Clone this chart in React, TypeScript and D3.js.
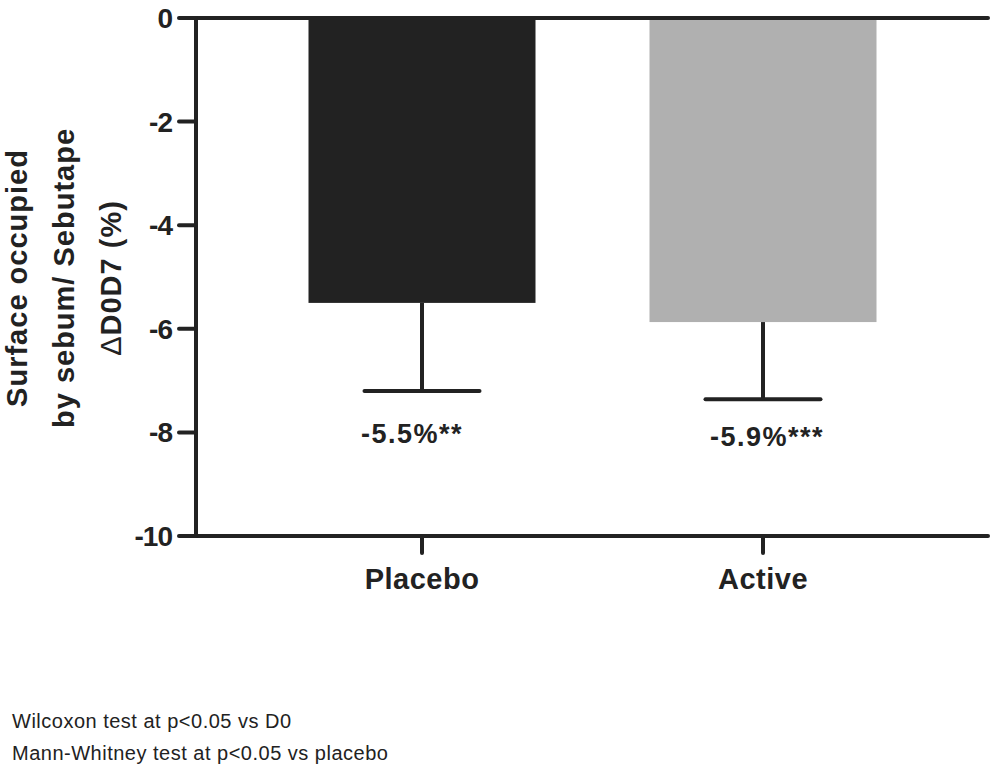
import React from "react";
import * as d3 from "d3";

const categories = ["Placebo", "Active"];
const means = [-5.5, -5.87];
const errLow = [-7.2, -7.36];
const valueLabels = ["-5.5%**", "-5.9%***"];
const yTicks = [0, -2, -4, -6, -8, -10];
const titleLines = ["Surface occupied", "by sebum/ Sebutape", "\u0394D0D7 (%)"];
const footnotes = ["Wilcoxon test at p<0.05 vs D0", "Mann-Whitney test at p<0.05 vs placebo"];
const barColors = ["#222222", "#b0b0b0"];

export default function App() {
  const W = 996, H = 767;
  const axisX = 196;
  const y = d3.scaleLinear().domain([0, -10]).range([18, 536]);
  const x = d3.scalePoint<string>().domain(categories).range([422, 763]);
  const barW = 227;
  const capW = 115;
  const ink = "#222";
  const font = "'Liberation Sans', Arial, sans-serif";
  const labelDx = [-10, 4];
  const labelDy = [52, 47];
  return (
    <svg width={W} height={H} style={{ position: "absolute", left: 0, top: 0 }} fontFamily={font}>
      <rect width={W} height={H} fill="#fff" />
      {categories.map((c, i) => {
        const cx = x(c)!;
        return (
          <g key={c}>
            <rect x={cx - barW / 2} y={y(0)} width={barW} height={y(means[i]) - y(0)} fill={barColors[i]} />
            <line x1={cx} x2={cx} y1={y(means[i])} y2={y(errLow[i])} stroke={ink} strokeWidth={4} />
            <line x1={cx - capW / 2} x2={cx + capW / 2} y1={y(errLow[i])} y2={y(errLow[i])} stroke={ink} strokeWidth={4} strokeLinecap="round" />
            <text x={cx + labelDx[i]} y={y(errLow[i]) + labelDy[i]} textAnchor="middle" fontSize={27} fontWeight="bold" fill={ink} letterSpacing={1.5}>{valueLabels[i]}</text>
            <line x1={cx} x2={cx} y1={y(-10)} y2={y(-10) + 17} stroke={ink} strokeWidth={4} strokeLinecap="round" />
            <text x={cx} y={589} textAnchor="middle" fontSize={29} fontWeight="bold" fill={ink} letterSpacing={0.5}>{c}</text>
          </g>
        );
      })}
      <line x1={axisX} x2={988} y1={y(0)} y2={y(0)} stroke={ink} strokeWidth={4} strokeLinecap="round" />
      <line x1={axisX} x2={988} y1={y(-10)} y2={y(-10)} stroke={ink} strokeWidth={4} strokeLinecap="round" />
      <line x1={axisX} x2={axisX} y1={y(0)} y2={y(-10)} stroke={ink} strokeWidth={4} strokeLinecap="round" />
      {yTicks.map((t) => (
        <g key={t}>
          <line x1={179} x2={axisX} y1={y(t)} y2={y(t)} stroke={ink} strokeWidth={4} strokeLinecap="round" />
          <text x={172} y={y(t) + 10} textAnchor="end" fontSize={28} fontWeight="bold" fill={ink} letterSpacing={-1}>{t}</text>
        </g>
      ))}
      <g transform="translate(0,278) rotate(-90)">
        {titleLines.map((l, i) => (
          <text key={l} x={0} y={27 + i * 47} textAnchor="middle" fontSize={29} fontWeight="bold" fill={ink} letterSpacing={1}>
            {i === 2 ? (<><tspan fontWeight="normal">{"\u0394"}</tspan>{l.slice(1)}</>) : l}
          </text>
        ))}
      </g>
      {footnotes.map((f, i) => (
        <text key={f} x={12} y={728 + i * 32} fontSize={20} fill={ink} letterSpacing={0.5}>{f}</text>
      ))}
    </svg>
  );
}
